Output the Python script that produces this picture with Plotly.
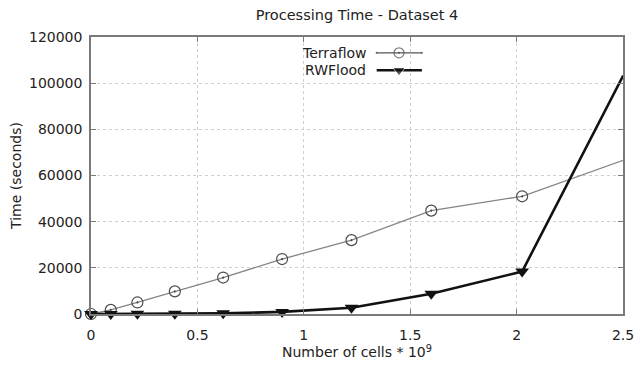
import plotly.graph_objects as go

# Data
cells = [0.0, 0.093, 0.218, 0.394, 0.621, 0.898, 1.224, 1.599, 2.026, 2.501]
terraflow = [0, 1800, 5000, 9800, 15800, 23800, 32000, 44800, 51000, 66600]
rwflood = [0, 50, 100, 150, 300, 900, 2700, 8800, 18400, 103300]

x_ticks = [0, 0.5, 1, 1.5, 2, 2.5]
x_tick_labels = ["0", "0.5", "1", "1.5", "2", "2.5"]
y_ticks = [0, 20000, 40000, 60000, 80000, 100000, 120000]
y_tick_labels = ["0", "20000", "40000", "60000", "80000", "100000", "120000"]

series_names = ["Terraflow", "RWFlood"]

FONT = "DejaVu Sans"
TXT = "#222222"
fig = go.Figure()

fig.add_trace(go.Scatter(
    x=cells, y=terraflow, mode="lines+markers", name=series_names[0],
    line=dict(color="#858585", width=1.3),
    marker=dict(symbol="circle-open-dot", size=11, color="#4a4a4a",
                line=dict(color="#4a4a4a", width=1.2)),
    showlegend=False, cliponaxis=False))
fig.add_trace(go.Scatter(
    x=cells, y=rwflood, mode="lines+markers", name=series_names[1],
    line=dict(color="#111111", width=2.6),
    marker=dict(symbol="triangle-down", size=12, color="#111111"),
    showlegend=False, cliponaxis=False))

# Custom gnuplot-style legend (text left, sample right) on an overlay axis
leg_x = [0.537, 0.579, 0.622]
leg_y = [0.943, 0.880]
fig.add_trace(go.Scatter(
    x=leg_x, y=[leg_y[0]] * 3, xaxis="x2", yaxis="y2", mode="lines+markers",
    line=dict(color="#555555", width=1.3),
    marker=dict(symbol="circle-open-dot", size=[0, 10, 0], color="#4a4a4a",
                line=dict(color="#4a4a4a", width=1.2)),
    showlegend=False, hoverinfo="skip"))
fig.add_trace(go.Scatter(
    x=leg_x, y=[leg_y[1]] * 3, xaxis="x2", yaxis="y2", mode="lines+markers",
    line=dict(color="#111111", width=2.6),
    marker=dict(symbol="triangle-down", size=[0, 11, 0], color="#111111"),
    showlegend=False, hoverinfo="skip"))
for name, yy in zip(series_names, leg_y):
    fig.add_annotation(xref="paper", yref="paper", x=0.521, y=yy, text=name,
                       showarrow=False, xanchor="right", yanchor="middle",
                       font=dict(family=FONT, size=14, color=TXT))

axis_common = dict(showgrid=True, gridcolor="#cfcfcf", griddash="dot",
                   gridwidth=1, showline=True, linecolor="#7a7a7a",
                   linewidth=1.5, mirror="ticks", ticks="inside", ticklen=5,
                   tickcolor="#7a7a7a", zeroline=False, automargin=False,
                   tickfont=dict(family=FONT, size=14, color=TXT))

# page body has an 8px margin, so the figure is sized/offset to compensate
fig.update_layout(
    width=635, height=358,
    margin=dict(l=83, r=20, t=29, b=52, autoexpand=False),
    paper_bgcolor="white", plot_bgcolor="white",
    title=dict(text="Processing Time - Dataset 4", x=0.5496, xanchor="center",
               y=0.980, yanchor="middle",
               font=dict(family=FONT, size=14.5, color=TXT)),
    xaxis=dict(range=[0, 2.5], tickvals=x_ticks, ticktext=x_tick_labels,
               ticklabelstandoff=7,
               title=dict(text="Number of cells * 10<sup>9</sup>", standoff=6,
                          font=dict(family=FONT, size=14, color=TXT)),
               **axis_common),
    yaxis=dict(range=[0, 120000], tickvals=y_ticks, ticktext=y_tick_labels,
               ticklabelstandoff=4,
               title=dict(text="Time (seconds)", standoff=4,
                          font=dict(family=FONT, size=14, color=TXT)),
               **axis_common),
    xaxis2=dict(range=[0, 1], overlaying="x", visible=False, fixedrange=True),
    yaxis2=dict(range=[0, 1], overlaying="y", visible=False, fixedrange=True),
)

fig.write_html("out.html")
